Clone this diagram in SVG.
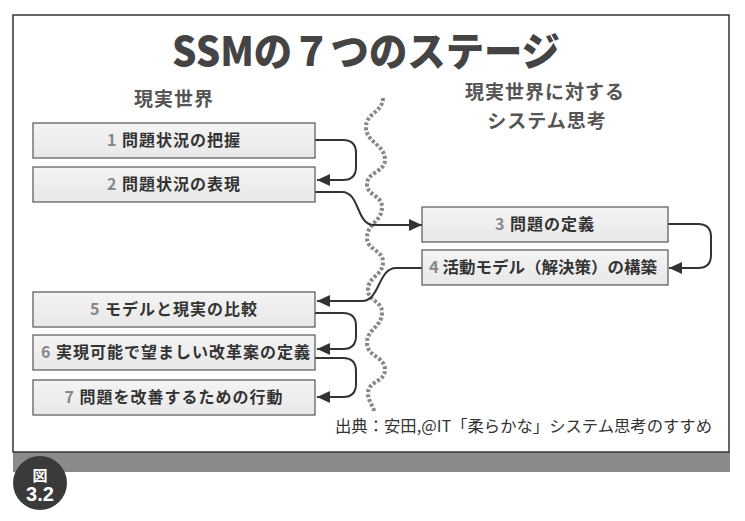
<svg xmlns="http://www.w3.org/2000/svg" width="745" height="521" viewBox="0 0 745 521">
<defs>
<marker id="ah" markerUnits="userSpaceOnUse" markerWidth="14" markerHeight="12" refX="13" refY="6" orient="auto">
<path d="M0,0 L13,6 L0,12 Z" fill="#333"/>
</marker>
<linearGradient id="bg" x1="0" y1="0" x2="0" y2="1">
<stop offset="0" stop-color="#f4f4f4"/>
<stop offset="1" stop-color="#e8e8e8"/>
</linearGradient>
</defs>
<style>
.jp{font-family:"Noto Sans CJK JP","Noto Sans",sans-serif;}
.box{fill:url(#bg);stroke:#555;stroke-width:1.2;}
.lbl{font-size:16px;font-weight:bold;fill:#333;letter-spacing:1px;text-anchor:middle;}
.num{fill:#888;}
.head{font-size:19px;font-weight:bold;fill:#555;text-anchor:middle;}
.con{fill:none;stroke:#333;stroke-width:2;}
</style>
<rect x="0" y="0" width="745" height="521" fill="#fff"/>
<rect x="13" y="452" width="717" height="20" fill="#8a8a8a"/>
<rect x="13" y="15" width="716" height="437" fill="#fff" stroke="#333" stroke-width="1.5"/>
<text class="jp" x="366" y="66" font-size="40" font-weight="900" fill="#444" text-anchor="middle" textLength="388" lengthAdjust="spacingAndGlyphs">SSMの７つのステージ</text>
<text class="jp head" x="174" y="106" letter-spacing="1">現実世界</text>
<text class="jp head" x="545" y="99" letter-spacing="1">現実世界に対する</text>
<text class="jp head" x="547" y="128" letter-spacing="1">システム思考</text>
<path id="wave" d="M383,98 C383,112 366,113 366,127 C366,143 385,144 385,160 C385,172 367,172 367,184 C367,196 382,195 382,207 C382,222 367,223 367,238 C367,250 383,250 383,262 C383,276 368,276 368,290 C368,301 382,301 382,312 C382,328 367,328 367,343 C367,357 385,356 385,370 C385,382 368,381 368,393 C368,402 374,406 374,412" fill="none" stroke="#888" stroke-width="4" stroke-dasharray="3 2"/>
<g id="connectors">
<path class="con" d="M315,140 H343 Q356,140 356,153 V167 Q356,180 343,180 H317" marker-end="url(#ah)"/>
<path class="con" d="M315,192 H342 C360,192 356,225 374,225 H422" marker-end="url(#ah)"/>
<path class="con" d="M668,224 H698 Q711,224 711,237 V255 Q711,268 698,268 H669" marker-end="url(#ah)"/>
<path class="con" d="M422,268 H396 C378,268 380,301 362,301 H317" marker-end="url(#ah)"/>
<path class="con" d="M315,313 H343 Q356,313 356,326 V336 Q356,349 343,349 H317" marker-end="url(#ah)"/>
<path class="con" d="M315,358 H343 Q356,358 356,371 V384 Q356,397 343,397 H317" marker-end="url(#ah)"/>
</g>
<g id="n1"><rect class="box" x="33" y="123" width="282" height="35"/><text class="jp lbl" x="174" y="146"><tspan class="num">1 </tspan>問題状況の把握</text></g>
<g id="n2"><rect class="box" x="33" y="167" width="282" height="35"/><text class="jp lbl" x="174" y="190"><tspan class="num">2 </tspan>問題状況の表現</text></g>
<g id="n3"><rect class="box" x="422" y="207" width="246" height="35"/><text class="jp lbl" x="545" y="230"><tspan class="num">3 </tspan>問題の定義</text></g>
<g id="n4"><rect class="box" x="422" y="250" width="246" height="35"/><text class="jp lbl" x="429" y="273" style="text-anchor:start;letter-spacing:0" textLength="228" lengthAdjust="spacingAndGlyphs"><tspan class="num">4 </tspan>活動モデル（解決策）の構築</text></g>
<g id="n5"><rect class="box" x="33" y="292" width="282" height="35"/><text class="jp lbl" x="174" y="315"><tspan class="num">5 </tspan>モデルと現実の比較</text></g>
<g id="n6"><rect class="box" x="33" y="335" width="282" height="35"/><text class="jp lbl" x="176" y="358"><tspan class="num">6 </tspan>実現可能で望ましい改革案の定義</text></g>
<g id="n7"><rect class="box" x="33" y="380" width="282" height="35"/><text class="jp lbl" x="174" y="403"><tspan class="num">7 </tspan>問題を改善するための行動</text></g>
<text class="jp" x="335" y="432" font-size="16" fill="#333" textLength="377" lengthAdjust="spacingAndGlyphs">出典：安田,@IT「柔らかな」システム思考のすすめ</text>
<g id="badge">
<circle cx="40" cy="483" r="27" fill="#3a3a3a"/>
<text class="jp" x="40" y="481" font-size="15" font-weight="bold" fill="#fff" text-anchor="middle">図</text>
<text x="40" y="501" font-family="Liberation Sans, Arial, sans-serif" font-size="20" font-weight="bold" fill="#fff" text-anchor="middle">3.2</text>
</g>
</svg>
